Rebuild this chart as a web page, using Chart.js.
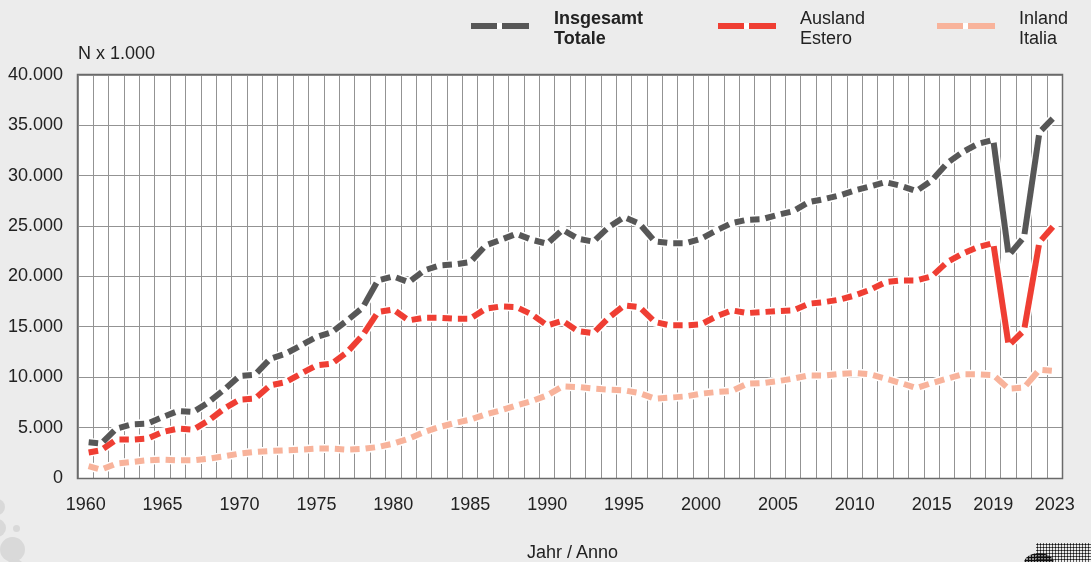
<!DOCTYPE html>
<html>
<head>
<meta charset="utf-8">
<script src="https://cdn.jsdelivr.net/npm/chart.js@4"></script>
<style>
  html, body { margin: 0; padding: 0; background: #ececec; }
  body { width: 1091px; height: 562px; position: relative; overflow: hidden; font-family: 'Liberation Sans', Arial, sans-serif; color: #222; }
  #wrap { position: absolute; left: 0; top: 0; width: 1091px; height: 562px; }
  .txt { position: absolute; font-size: 18px; line-height: 20px; white-space: nowrap; color: #222; }
  .sw { position: absolute; width: 58px; height: 6px; }
  .dot { position: absolute; border-radius: 50%; background: #d9d9d9; }
  #halftone { position: absolute; left: 1036px; top: 543px; width: 55px; height: 19px;
    background-image: radial-gradient(circle, #111 0.9px, transparent 1.2px); background-size: 3px 3px; }
  #blob { position: absolute; left: 1024px; top: 553px; width: 30px; height: 20px; border-radius: 50%;
    background-image: radial-gradient(circle, #111 1.3px, transparent 1.5px); background-size: 3px 3px; }
</style>
</head>
<body>
<div id="wrap"><canvas id="c" width="1091" height="562"></canvas></div>

<div class="txt" style="left:78px;top:43px;">N x 1.000</div>

<div class="sw" style="left:471px;top:23px;background:linear-gradient(to right,#575757 0,#575757 26px,#fff 26px,#fff 31px,#575757 31px);"></div>
<div class="txt" style="left:554px;top:8px;font-weight:bold;">Insgesamt<br>Totale</div>
<div class="sw" style="left:718px;top:23px;background:linear-gradient(to right,#ef3e33 0,#ef3e33 26px,#fff 26px,#fff 31px,#ef3e33 31px);"></div>
<div class="txt" style="left:800px;top:8px;">Ausland<br>Estero</div>
<div class="sw" style="left:937px;top:23px;background:linear-gradient(to right,#f8b39b 0,#f8b39b 26px,#fff 26px,#fff 31px,#f8b39b 31px);"></div>
<div class="txt" style="left:1019px;top:8px;">Inland<br>Italia</div>

<div class="txt" style="left:527px;top:542px;">Jahr / Anno</div>

<div class="dot" style="left:-11px;top:499px;width:16px;height:16px;"></div>
<div class="dot" style="left:-12px;top:519px;width:18px;height:18px;"></div>
<div class="dot" style="left:13px;top:525px;width:7px;height:7px;"></div>
<div class="dot" style="left:0px;top:537px;width:25px;height:25px;"></div>
<div class="dot" style="left:5px;top:559px;width:20px;height:20px;"></div>
<div id="halftone"></div>
<div id="blob"></div>

<script>
// ---- data ----
const years = [
  '1960','1961','1962','1963','1964','1965','1966','1967','1968','1969',
  '1970','1971','1972','1973','1974','1975','1976','1977','1978','1979',
  '1980','1981','1982','1983','1984','1985','1986','1987','1988','1989',
  '1990','1991','1992','1993','1994','1995','1996','1997','1998','1999',
  '2000','2001','2002','2003','2004','2005','2006','2007','2008','2009',
  '2010','2011','2012','2013','2014','2015','2016','2017','2018','2019',
  '2020','2021','2022','2023'
];
const tickYears = ['1960','1965','1970','1975','1980','1985','1990','1995','2000','2005','2010','2015','2019','2023'];

const insgesamt = [
  3570, 3410, 4900, 5330, 5400, 6050, 6650, 6550, 7540, 8770,
  10120, 10250, 11840, 12340, 13160, 13990, 14480, 15640, 16900, 19610,
  20010, 19440, 20600, 21100, 21200, 21430, 23080, 23650, 24240, 23650,
  23250, 24640, 23750, 23450, 24900, 25890, 25240, 23480, 23310, 23310,
  23750, 24570, 25300, 25630, 25700, 26130, 26490, 27380, 27680, 28040,
  28540, 28940, 29370, 29000, 28480, 29530, 31250, 32340, 33170, 33570,
  22090, 23910, 34320, 35880
];
const ausland = [
  2480, 2750, 3810, 3810, 3910, 4560, 4900, 4800, 5720, 6880,
  7780, 7880, 9200, 9520, 10360, 11180, 11350, 12500, 14160, 16470,
  16730, 15640, 15910, 15910, 15810, 15810, 16800, 17030, 16960, 16240,
  15150, 15600, 14580, 14380, 15910, 17130, 16960, 15480, 15150, 15150,
  15250, 16040, 16640, 16370, 16470, 16570, 16640, 17300, 17460, 17700,
  18120, 18690, 19440, 19610, 19610, 20010, 21430, 22260, 22920, 23310,
  13160, 14650, 23410, 25170
];
const inland = [
  1260, 830, 1430, 1590, 1760, 1830, 1760, 1760, 1920, 2150,
  2420, 2580, 2680, 2750, 2820, 2920, 2920, 2820, 2880, 3080,
  3410, 3910, 4560, 5060, 5460, 5790, 6320, 6720, 7210, 7640,
  8200, 9100, 9030, 8870, 8770, 8700, 8430, 7880, 7980, 8100,
  8370, 8530, 8630, 9360, 9420, 9620, 9860, 10190, 10160, 10320,
  10420, 10290, 9860, 9420, 8930, 9420, 9860, 10290, 10290, 10220,
  8870, 8970, 10750, 10610
];
const seriesNames = ['Insgesamt / Totale', 'Ausland / Estero', 'Inland / Italia'];
const seriesColors = ['#575757', '#ef3e33', '#f8b39b'];

// ---- styling helpers ----
const FONT = "'Liberation Sans', Arial, sans-serif";
const GAP = 6;
function segLen(c) { return Math.hypot(c.p1.x - c.p0.x, c.p1.y - c.p0.y); }
const segmentDash = {
  borderDash: c => { const L = segLen(c); return [Math.max(L - GAP, 0.5), GAP]; },
  borderDashOffset: c => segLen(c) - GAP / 2
};
function fmt(v) { return String(v).replace(/\B(?=(\d{3})+(?!\d))/g, '.'); }

const plotBg = {
  id: 'plotBg',
  beforeDraw(chart) {
    const {ctx, chartArea: a} = chart;
    ctx.save();
    ctx.fillStyle = '#ffffff';
    ctx.fillRect(a.left, a.top, a.right - a.left, a.bottom - a.top);
    ctx.restore();
  },
  beforeDatasetsDraw(chart) {
    const {ctx, chartArea: a} = chart;
    ctx.save();
    ctx.strokeStyle = '#6a6a6a';
    ctx.lineWidth = 1.5;
    ctx.strokeRect(Math.round(a.left) - 0.5, Math.round(a.top) - 0.5, Math.round(a.right - a.left) + 1, Math.round(a.bottom - a.top) + 1);
    // white halo under lines
    ctx.strokeStyle = '#ffffff';
    ctx.lineWidth = 9;
    ctx.lineJoin = 'round';
    ctx.lineCap = 'round';
    chart.data.datasets.forEach((ds, i) => {
      const meta = chart.getDatasetMeta(i);
      ctx.beginPath();
      meta.data.forEach((p, k) => { if (k === 0) ctx.moveTo(p.x, p.y); else ctx.lineTo(p.x, p.y); });
      ctx.stroke();
    });
    ctx.restore();
  }
};

function mkDataset(label, data, color) {
  return {
    label, data,
    borderColor: color,
    backgroundColor: color,
    borderWidth: 6,
    pointRadius: 0,
    pointHoverRadius: 0,
    tension: 0,
    fill: false,
    borderCapStyle: 'butt',
    segment: segmentDash
  };
}

new Chart(document.getElementById('c'), {
  type: 'line',
  data: {
    labels: years,
    datasets: [
      mkDataset(seriesNames[0], insgesamt, seriesColors[0]),
      mkDataset(seriesNames[1], ausland, seriesColors[1]),
      mkDataset(seriesNames[2], inland, seriesColors[2])
    ]
  },
  options: {
    responsive: false,
    animation: false,
    events: [],
    layout: { padding: { left: 0, top: 75, right: 22, bottom: 0 } },
    plugins: { legend: { display: false }, tooltip: { enabled: false }, title: { display: false } },
    scales: {
      x: {
        type: 'category',
        offset: true,
        grid: { offset: true, color: '#939393', lineWidth: 1, drawTicks: false },
        border: { display: false },
        ticks: {
          autoSkip: false,
          maxRotation: 0,
          padding: 16,
          color: '#222',
          font: { family: FONT, size: 18 },
          callback(value, index) { const y = years[index]; return tickYears.includes(y) ? y : ''; }
        },
        afterFit(scale) { scale.height = 84; }
      },
      y: {
        min: 0, max: 40000,
        grid: { color: '#939393', lineWidth: 1, drawTicks: false },
        border: { display: false },
        ticks: {
          stepSize: 5000,
          padding: 15,
          color: '#222',
          font: { family: FONT, size: 18 },
          callback: v => fmt(v)
        },
        afterFit(scale) { scale.width = 78; }
      }
    }
  },
  plugins: [plotBg]
});
</script>
</body>
</html>
